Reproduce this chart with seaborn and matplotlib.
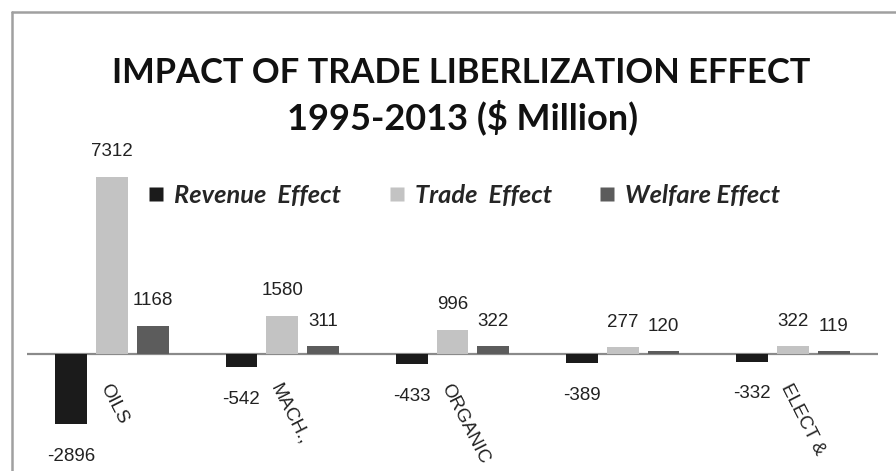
import matplotlib
matplotlib.use("Agg")
import matplotlib.pyplot as plt
from matplotlib.lines import Line2D
import seaborn as sns
import pandas as pd

# Categories along the x axis (the fourth one carries no printed label)
categories = ["OILS", "MACH.,", "ORGANIC", "", "ELECT &"]
cat_keys = ["c1", "c2", "c3", "c4", "c5"]
effects = ["Revenue  Effect", "Trade  Effect", "Welfare Effect"]

revenue_effect = [-2896, -542, -433, -389, -332]
trade_effect = [7312, 1580, 996, 277, 322]
welfare_effect = [1168, 311, 322, 120, 119]

colors = ["#1b1b1b", "#c3c3c3", "#5c5c5c"]

rows = []
for eff, vals in zip(effects, [revenue_effect, trade_effect, welfare_effect]):
    for key, v in zip(cat_keys, vals):
        rows.append({"category": key, "effect": eff, "value": v})
df = pd.DataFrame(rows)

sns.set_theme(style="white")
plt.rcParams["font.family"] = ["Liberation Sans", "DejaVu Sans"]

W, H = 896, 471
fig = plt.figure(figsize=(W / 100, H / 100), dpi=100)
fig.patch.set_facecolor("white")

# Axes span the full height; y limits place the zero line at the right height
px_per_unit = 0.02421
base_px = 354
ax = fig.add_axes([27 / W, 0, (878 - 27) / W, 1])
ax.set_facecolor("none")

sns.barplot(data=df, x="category", y="value", hue="effect", order=cat_keys,
            hue_order=effects, palette=colors, width=0.72, gap=0.22,
            saturation=1, legend=False, ax=ax, edgecolor="none")

ax.set_xlim(-0.5, 4.5)
ax.set_ylim(-(H - base_px) / px_per_unit, base_px / px_per_unit)
for s in ax.spines.values():
    s.set_visible(False)
ax.set_xticks([])
ax.set_yticks([])
ax.set_xlabel("")
ax.set_ylabel("")
ax.axhline(0, color="#8a8a8a", lw=1.6, zorder=0.5)

# Value labels taken from each bar's own height
for cont in ax.containers:
    for bar in cont:
        v = bar.get_height()
        xc = bar.get_x() + bar.get_width() / 2
        off = 18 if v >= 0 else -23
        ax.annotate(f"{v:.0f}", (xc, v), xytext=(0, off),
                    textcoords="offset points", ha="center", va="center",
                    fontsize=13.5, color="#222222", annotation_clip=False)

# Rotated category names below the zero line
label_y = -(381 - base_px) / px_per_unit
for i, name in enumerate(categories):
    if name:
        ax.text(i, label_y, name, rotation=-63, rotation_mode="anchor",
                ha="left", va="top", fontsize=13.5, color="#222222")

# Title
fig.text(461 / W, 1 - 73 / H, "IMPACT OF TRADE LIBERLIZATION EFFECT",
         ha="center", va="center", fontsize=24.8, fontweight="bold",
         family=["Lato", "DejaVu Sans"], color="#111111")
fig.text(463 / W, 1 - 117 / H, "1995-2013 ($ Million)",
         ha="center", va="center", fontsize=26, fontweight="bold",
         family=["Lato", "DejaVu Sans"], color="#111111")

# Legend with square swatches
handles = [Line2D([], [], marker="s", linestyle="none", markersize=10,
                  markerfacecolor=c, markeredgecolor="none") for c in colors]
fig.legend(handles, effects, loc="center left",
           bbox_to_anchor=(146 / W, 1 - 195 / H), ncol=3, frameon=False,
           borderpad=0, borderaxespad=0, handletextpad=0.3,
           columnspacing=1.8, handlelength=0.8,
           prop={"family": ["Lato", "DejaVu Sans"], "weight": "bold",
                 "style": "italic", "size": 18.3})

# Outer chart frame (left and top edges)
fig.add_artist(Line2D([12 / W, 12 / W], [0, 1 - 12 / H], transform=fig.transFigure,
                      color="#a0a0a0", lw=1.8))
fig.add_artist(Line2D([12 / W, 1], [1 - 12 / H, 1 - 12 / H], transform=fig.transFigure,
                      color="#a0a0a0", lw=1.8))

fig.savefig("out.png", dpi=100, facecolor="white")
